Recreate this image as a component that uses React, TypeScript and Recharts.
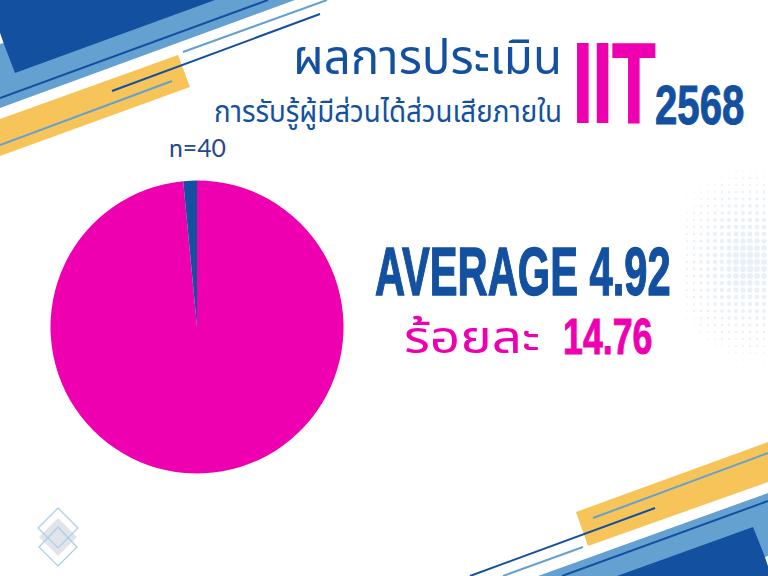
import React from 'react';
import { PieChart, Pie, Cell } from 'recharts';

const sliceNames = ['ระดับสูง', 'ระดับอื่น'];
const sliceValues = [98.5, 1.5];
const sliceColors = ['#EE00B1', '#1351A0'];

const BLUE = '#1351A0';
const LIGHT = '#64A1D0';
const YELLOW = '#F7C45A';
const PINK = '#EE00B1';
const NARROW = '"Liberation Sans Narrow", "Liberation Sans", sans-serif';
const THAI = '"Noto Sans", "Noto Sans Thai", "Open Sans", sans-serif';

const pieData = sliceNames.map((name, i) => ({ name, value: sliceValues[i] }));

// halftone patch on the right edge
const Halftone = () => {
  const dots = [];
  for (let x = 687; x < 772; x += 7) {
    for (let y = 157; y < 372; y += 7) {
      const d = Math.hypot((x - 748) * 1.25, y - 263);
      if (d > 106) continue;
      dots.push(<circle key={`${x}-${y}`} cx={x} cy={y} r={Math.max(0.5, 3.4 - d / 34)} fill="#E9F0F8" />);
    }
  }
  return <g>{dots}</g>;
};

// condensed heading text, squeezed sideways since no Bebas-like font is installed
const Squeezed = ({ x, y, sx, size, fill, weight, children }: any) => (
  <text
    transform={`translate(${x},${y}) scale(${sx},1)`}
    fontFamily={NARROW}
    fontWeight={700}
    fontSize={size}
    fill={fill}
    stroke={fill}
    strokeWidth={weight}
  >
    {children}
  </text>
);

const Backdrop = () => (
  <svg width={768} height={576} style={{ position: 'absolute', left: 0, top: 0 }}>
    <Halftone />
    {/* top left corner */}
    <polygon points="0,0 295,0 0,108" fill={LIGHT} />
    <polygon points="0,0 215,0 15,73 3.5,43 0,33" fill={BLUE} />
    <polygon points="0,33 3.5,43 0,44" fill="#fff" />
    <line x1={0} y1={98} x2={268} y2={0} stroke={BLUE} strokeWidth={2} />
    <polygon points="0,119 178,55 190,87 0,156" fill={YELLOW} />
    <line x1={0} y1={145} x2={172} y2={81} stroke={LIGHT} strokeWidth={2} />
    <line x1={112} y1={91} x2={320} y2={14} stroke={BLUE} strokeWidth={2} />
    <line x1={183} y1={52} x2={327} y2={0} stroke={LIGHT} strokeWidth={2} />
    {/* bottom right corner */}
    <polygon points="538,576 768,493 768,576" fill={LIGHT} />
    <polygon points="753,527 617,576 768,576 768,566 765,557" fill={BLUE} />
    <polygon points="765,557 768,556 768,566" fill="#fff" />
    <line x1={562} y1={576} x2={768} y2={501} stroke={BLUE} strokeWidth={2} />
    <polygon points="576,512 768,442 768,482 588,546" fill={YELLOW} />
    <line x1={593} y1={518} x2={768} y2={453} stroke={LIGHT} strokeWidth={2} />
    <line x1={470} y1={576} x2={655} y2={508} stroke={BLUE} strokeWidth={2} />
    <line x1={503} y1={576} x2={583} y2={547} stroke={LIGHT} strokeWidth={2} />
    {/* logo diamonds */}
    <polygon points="58,518 77,537 58,556 39,537" fill="#E1E4EA" />
    <polygon points="58,508 78,528 58,548 38,528" fill="none" stroke="#A9CDE8" strokeWidth={1.2} />
    <polygon points="58,527 77,547 58,566 39,547" fill="none" stroke="#A9CDE8" strokeWidth={1.2} />
    {/* headings */}
    <text x={562} y={74} textAnchor="end" fontFamily={THAI} fontSize={49} fill={BLUE} textLength={269} lengthAdjust="spacingAndGlyphs">ผลการประเมิน</text>
    <text x={562} y={122} textAnchor="end" fontFamily={THAI} fontSize={30} fill={BLUE} textLength={348} lengthAdjust="spacingAndGlyphs">การรับรู้ผู้มีส่วนได้ส่วนเสียภายใน</text>
    <Squeezed x={573} y={122} sx={0.62} size={114} fill={PINK} weight={2.2}>IIT</Squeezed>
    <Squeezed x={655} y={124} sx={0.73} size={55} fill={BLUE} weight={1}>2568</Squeezed>
    <text x={169} y={157} fontFamily="Lato, sans-serif" fontSize={25} fill="#27478F" textLength={57} lengthAdjust="spacingAndGlyphs">n=40</text>
    <Squeezed x={375} y={295} sx={0.613} size={68} fill={BLUE} weight={1.4}>AVERAGE 4.92</Squeezed>
    <text x={404} y={353} fontFamily={THAI} fontSize={44} fill={PINK} textLength={136} lengthAdjust="spacingAndGlyphs">ร้อยละ</text>
    <Squeezed x={563} y={354} sx={0.715} size={50} fill={PINK} weight={1}>14.76</Squeezed>
  </svg>
);

export default function App() {
  return (
    <div style={{ position: 'absolute', left: 0, top: 0, width: 768, height: 576, background: '#fff', overflow: 'hidden' }}>
      <Backdrop />
      <div style={{ position: 'absolute', left: 0, top: 0 }}>
        <PieChart width={768} height={576} margin={{ top: 0, right: 0, bottom: 0, left: 0 }}>
          <Pie
            data={pieData}
            dataKey="value"
            nameKey="name"
            cx={197}
            cy={327}
            innerRadius={0}
            outerRadius={146.5}
            startAngle={90}
            endAngle={-270}
            stroke="none"
            isAnimationActive={false}
          >
            {pieData.map((d, i) => (
              <Cell key={d.name} fill={sliceColors[i]} />
            ))}
          </Pie>
        </PieChart>
      </div>
    </div>
  );
}
